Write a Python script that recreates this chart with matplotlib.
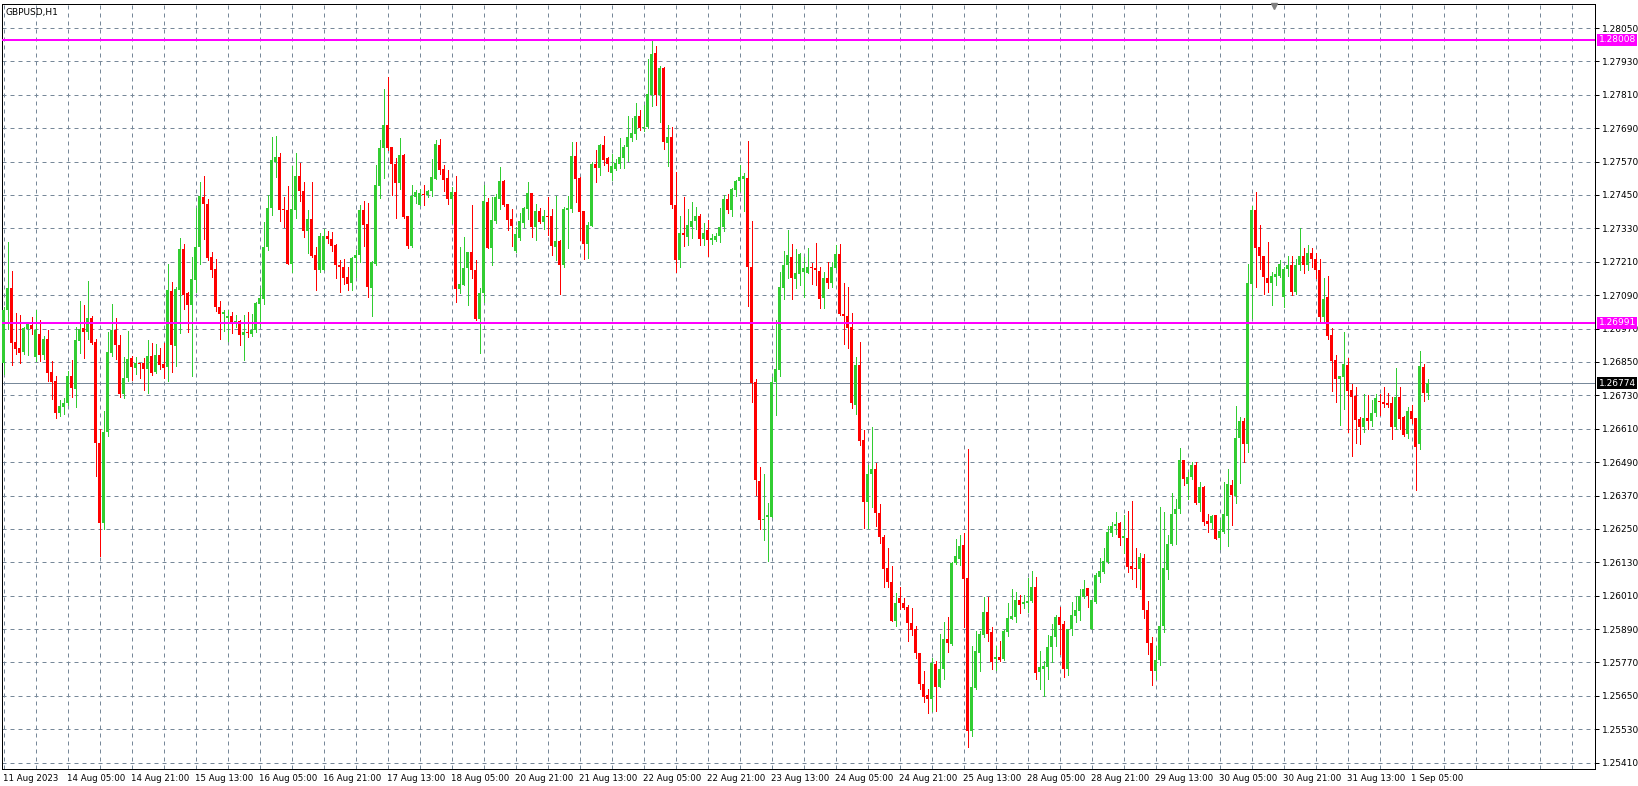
import numpy as np
import matplotlib
matplotlib.use("Agg")
import matplotlib.pyplot as plt
import matplotlib.transforms as mtrans

# ---------------- data (GBPUSD H1) ----------------
opens = [
1.26846, 1.27035, 1.27116, 1.26921, 1.26899, 1.26885, 1.26969, 1.26982, 1.26868, 1.26950,
1.26874, 1.26932, 1.26813, 1.26781, 1.26665, 1.26689, 1.26702, 1.26800, 1.26754, 1.26927,
1.26971, 1.26958, 1.27008, 1.26921, 1.26559, 1.26272, 1.26599, 1.26882, 1.26964, 1.26910,
1.26735, 1.26793, 1.26864, 1.26830, 1.26847, 1.26848, 1.26825, 1.26871, 1.26815, 1.26874,
1.26842, 1.26833, 1.27105, 1.26909, 1.27108, 1.27257, 1.27096, 1.27055, 1.27144, 1.27263,
1.27441, 1.27419, 1.27227, 1.27185, 1.27047, 1.27021, 1.27007, 1.27015, 1.26986, 1.26997,
1.26946, 1.26958, 1.26949, 1.26964, 1.27059, 1.27077, 1.27262, 1.27403, 1.27569, 1.27585,
1.27399, 1.27397, 1.27203, 1.27395, 1.27520, 1.27465, 1.27321, 1.27364, 1.27235, 1.27182,
1.27181, 1.27301, 1.27291, 1.27269, 1.27199, 1.27192, 1.27155, 1.27132, 1.27223, 1.27236,
1.27395, 1.27347, 1.27114, 1.27203, 1.27482, 1.27618, 1.27701, 1.27621, 1.27563, 1.27492,
1.27592, 1.27373, 1.27265, 1.27443, 1.27415, 1.27455, 1.27449, 1.27463, 1.27509, 1.27630,
1.27544, 1.27511, 1.27437, 1.27461, 1.27112, 1.27127, 1.27186, 1.27244, 1.27180, 1.27004,
1.27097, 1.27425, 1.27260, 1.27358, 1.27437, 1.27500, 1.27418, 1.27364, 1.27250, 1.27296,
1.27350, 1.27401, 1.27457, 1.27336, 1.27392, 1.27354, 1.27374, 1.27376, 1.27264, 1.27284,
1.27199, 1.27396, 1.27401, 1.27590, 1.27511, 1.27392, 1.27274, 1.27338, 1.27562, 1.27548,
1.27630, 1.27582, 1.27529, 1.27543, 1.27562, 1.27584, 1.27623, 1.27654, 1.27669, 1.27733,
1.27691, 1.27693, 1.27811, 1.27959, 1.27811, 1.27907, 1.27637, 1.27659, 1.27415, 1.27218,
1.27314, 1.27298, 1.27336, 1.27356, 1.27376, 1.27291, 1.27325, 1.27287, 1.27290, 1.27301,
1.27334, 1.27434, 1.27395, 1.27468, 1.27499, 1.27508, 1.27510, 1.27191, 1.26778, 1.26421,
1.26281, 1.26292, 1.26294, 1.26779, 1.26820, 1.27117, 1.27198, 1.27228, 1.27147, 1.27165,
1.27175, 1.27169, 1.27192, 1.27188, 1.27178, 1.27079, 1.27152, 1.27133, 1.27189, 1.27237,
1.27023, 1.27015, 1.26976, 1.26694, 1.26839, 1.26570, 1.26348, 1.26447, 1.26464, 1.26307,
1.26221, 1.26108, 1.26060, 1.25919, 1.26000, 1.25984, 1.25971, 1.25912, 1.25889, 1.25805,
1.25694, 1.25653, 1.25640, 1.25763, 1.25682, 1.25746, 1.25854, 1.25838, 1.26126, 1.26142,
1.26192, 1.26074, 1.25524, 1.25679, 1.25805, 1.25868, 1.25950, 1.25879, 1.25781, 1.25788,
1.25781, 1.25880, 1.25926, 1.25934, 1.25993, 1.25980, 1.25984, 1.25991, 1.26041, 1.25736,
1.25747, 1.25754, 1.25825, 1.25862, 1.25934, 1.25908, 1.25747, 1.25889, 1.25938, 1.25956,
1.26004, 1.26036, 1.25890, 1.25988, 1.26078, 1.26095, 1.26131, 1.26236, 1.26260, 1.26272,
1.26219, 1.26219, 1.26116, 1.26110, 1.26106, 1.26146, 1.25960, 1.25840, 1.25740, 1.25780,
1.25900, 1.26101, 1.26194, 1.26305, 1.26320, 1.26497, 1.26413, 1.26435, 1.26479, 1.26344,
1.26399, 1.26278, 1.26272, 1.26299, 1.26218, 1.26239, 1.26297, 1.26407, 1.26369, 1.26575,
1.26638, 1.26555, 1.27130, 1.27397, 1.27263, 1.27232, 1.27152, 1.27132, 1.27157, 1.27160,
1.27085, 1.27184, 1.27200, 1.27101, 1.27200, 1.27230, 1.27200, 1.27240, 1.27220, 1.27180,
1.27010, 1.27082, 1.26947, 1.26857, 1.26789, 1.26797, 1.26839, 1.26749, 1.26729, 1.26645,
1.26617, 1.26650, 1.26639, 1.26668, 1.26710, 1.26706, 1.26701, 1.26701, 1.26617, 1.26724,
1.26653, 1.26591, 1.26674, 1.26648, 1.26556, 1.26833, 1.26740]

highs = [
1.27047, 1.27282, 1.27177, 1.27025, 1.27019, 1.26977, 1.26988, 1.27010, 1.27035, 1.27001,
1.26942, 1.26965, 1.26852, 1.26798, 1.26715, 1.26720, 1.26819, 1.26857, 1.26974, 1.27069,
1.27053, 1.27141, 1.27015, 1.26933, 1.26608, 1.26672, 1.26959, 1.27058, 1.27008, 1.26947,
1.26868, 1.26960, 1.26870, 1.26868, 1.26847, 1.26864, 1.26929, 1.26918, 1.26914, 1.26900,
1.26918, 1.27203, 1.27137, 1.27120, 1.27297, 1.27275, 1.27102, 1.27227, 1.27404, 1.27498,
1.27520, 1.27434, 1.27246, 1.27221, 1.27069, 1.27036, 1.27036, 1.27029, 1.27019, 1.27001,
1.27019, 1.27030, 1.27022, 1.27066, 1.27114, 1.27354, 1.27449, 1.27657, 1.27661, 1.27600,
1.27441, 1.27482, 1.27553, 1.27602, 1.27564, 1.27498, 1.27395, 1.27495, 1.27264, 1.27315,
1.27327, 1.27321, 1.27318, 1.27273, 1.27218, 1.27221, 1.27193, 1.27227, 1.27253, 1.27413,
1.27430, 1.27423, 1.27214, 1.27557, 1.27647, 1.27830, 1.27875, 1.27621, 1.27584, 1.27654,
1.27598, 1.27375, 1.27486, 1.27468, 1.27470, 1.27486, 1.27468, 1.27581, 1.27648, 1.27650,
1.27558, 1.27540, 1.27478, 1.27518, 1.27264, 1.27300, 1.27244, 1.27414, 1.27216, 1.27115,
1.27487, 1.27439, 1.27442, 1.27454, 1.27550, 1.27504, 1.27418, 1.27400, 1.27336, 1.27385,
1.27406, 1.27497, 1.27457, 1.27418, 1.27404, 1.27396, 1.27442, 1.27400, 1.27446, 1.27288,
1.27406, 1.27446, 1.27642, 1.27640, 1.27516, 1.27394, 1.27354, 1.27568, 1.27612, 1.27634,
1.27662, 1.27586, 1.27596, 1.27578, 1.27654, 1.27629, 1.27734, 1.27726, 1.27779, 1.27754,
1.27773, 1.27937, 1.28002, 1.27986, 1.27913, 1.27911, 1.27700, 1.27696, 1.27532, 1.27376,
1.27441, 1.27401, 1.27426, 1.27408, 1.27380, 1.27348, 1.27360, 1.27310, 1.27312, 1.27404,
1.27449, 1.27452, 1.27474, 1.27504, 1.27557, 1.27529, 1.27645, 1.27358, 1.26788, 1.26473,
1.26449, 1.26342, 1.26797, 1.27002, 1.27175, 1.27249, 1.27323, 1.27273, 1.27255, 1.27243,
1.27228, 1.27258, 1.27205, 1.27278, 1.27192, 1.27173, 1.27210, 1.27208, 1.27269, 1.27275,
1.27134, 1.27121, 1.27026, 1.26869, 1.26923, 1.26605, 1.26478, 1.26617, 1.26487, 1.26338,
1.26229, 1.26183, 1.26115, 1.26021, 1.26041, 1.26002, 1.25976, 1.25967, 1.25900, 1.25805,
1.25739, 1.25675, 1.25785, 1.25775, 1.25872, 1.25916, 1.25934, 1.26130, 1.26214, 1.26228,
1.26234, 1.26538, 1.25829, 1.25884, 1.25884, 1.26006, 1.26006, 1.25896, 1.25829, 1.25847,
1.25886, 1.25985, 1.26034, 1.26023, 1.26012, 1.26014, 1.26074, 1.26098, 1.26077, 1.25811,
1.25775, 1.25868, 1.25908, 1.25940, 1.25969, 1.25919, 1.25890, 1.25988, 1.26009, 1.26033,
1.26066, 1.26039, 1.25994, 1.26093, 1.26146, 1.26182, 1.26261, 1.26275, 1.26311, 1.26275,
1.26299, 1.26314, 1.26350, 1.26182, 1.26164, 1.26159, 1.25990, 1.25860, 1.25830, 1.26330,
1.26310, 1.26227, 1.26380, 1.26359, 1.26542, 1.26497, 1.26455, 1.26489, 1.26489, 1.26419,
1.26404, 1.26305, 1.26299, 1.26299, 1.26281, 1.26418, 1.26465, 1.26425, 1.26692, 1.26651,
1.26647, 1.27203, 1.27412, 1.27461, 1.27343, 1.27232, 1.27282, 1.27174, 1.27191, 1.27217,
1.27193, 1.27230, 1.27230, 1.27220, 1.27330, 1.27260, 1.27270, 1.27260, 1.27240, 1.27220,
1.27150, 1.27160, 1.26971, 1.26875, 1.26800, 1.26959, 1.26863, 1.26771, 1.26759, 1.26653,
1.26735, 1.26731, 1.26713, 1.26735, 1.26735, 1.26760, 1.26737, 1.26725, 1.26828, 1.26760,
1.26656, 1.26689, 1.26694, 1.26648, 1.26891, 1.26843, 1.26789]

lows = [
1.26805, 1.26969, 1.26839, 1.26878, 1.26846, 1.26880, 1.26874, 1.26952, 1.26854, 1.26854,
1.26861, 1.26782, 1.26717, 1.26650, 1.26656, 1.26663, 1.26695, 1.26724, 1.26687, 1.26882,
1.26864, 1.26933, 1.26915, 1.26439, 1.26153, 1.26251, 1.26583, 1.26872, 1.26861, 1.26724,
1.26720, 1.26782, 1.26786, 1.26807, 1.26791, 1.26748, 1.26738, 1.26803, 1.26812, 1.26824,
1.26791, 1.26782, 1.26814, 1.26836, 1.26955, 1.27042, 1.26957, 1.26799, 1.27102, 1.27202,
1.27291, 1.27218, 1.27157, 1.27033, 1.26933, 1.26961, 1.26927, 1.26955, 1.26976, 1.26911,
1.26858, 1.26941, 1.26942, 1.26958, 1.26980, 1.27057, 1.27254, 1.27379, 1.27514, 1.27358,
1.27336, 1.27202, 1.27174, 1.27367, 1.27428, 1.27299, 1.27242, 1.27226, 1.27107, 1.27175,
1.27179, 1.27279, 1.27247, 1.27153, 1.27103, 1.27129, 1.27110, 1.27110, 1.27157, 1.27208,
1.27265, 1.27085, 1.27016, 1.27199, 1.27438, 1.27510, 1.27611, 1.27449, 1.27367, 1.27471,
1.27367, 1.27260, 1.27262, 1.27423, 1.27413, 1.27415, 1.27441, 1.27445, 1.27507, 1.27526,
1.27464, 1.27418, 1.27350, 1.27066, 1.27098, 1.27125, 1.27054, 1.27150, 1.26999, 1.26882,
1.27066, 1.27260, 1.27199, 1.27348, 1.27401, 1.27410, 1.27325, 1.27266, 1.27246, 1.27287,
1.27336, 1.27362, 1.27299, 1.27288, 1.27350, 1.27329, 1.27308, 1.27233, 1.27216, 1.27095,
1.27192, 1.27259, 1.27390, 1.27425, 1.27290, 1.27220, 1.27224, 1.27337, 1.27498, 1.27522,
1.27557, 1.27537, 1.27504, 1.27541, 1.27547, 1.27547, 1.27573, 1.27645, 1.27651, 1.27684,
1.27681, 1.27691, 1.27770, 1.27773, 1.27713, 1.27615, 1.27554, 1.27404, 1.27174, 1.27193,
1.27265, 1.27271, 1.27295, 1.27327, 1.27271, 1.27272, 1.27230, 1.27275, 1.27285, 1.27281,
1.27321, 1.27386, 1.27374, 1.27445, 1.27464, 1.27392, 1.27051, 1.26705, 1.26373, 1.26250,
1.26211, 1.26134, 1.26291, 1.26658, 1.26799, 1.27075, 1.27153, 1.27075, 1.27117, 1.27125,
1.27083, 1.27169, 1.27130, 1.27128, 1.27044, 1.27044, 1.27117, 1.27121, 1.27185, 1.27019,
1.26914, 1.26901, 1.26683, 1.26662, 1.26553, 1.26253, 1.26253, 1.26330, 1.26262, 1.26198,
1.26042, 1.26042, 1.25919, 1.25901, 1.25961, 1.25961, 1.25846, 1.25869, 1.25785, 1.25675,
1.25628, 1.25589, 1.25596, 1.25596, 1.25682, 1.25710, 1.25808, 1.25832, 1.26123, 1.26120,
1.25898, 1.25466, 1.25505, 1.25676, 1.25740, 1.25860, 1.25848, 1.25745, 1.25742, 1.25775,
1.25778, 1.25866, 1.25925, 1.25914, 1.25948, 1.25967, 1.25952, 1.25987, 1.25712, 1.25675,
1.25648, 1.25711, 1.25770, 1.25830, 1.25799, 1.25718, 1.25724, 1.25870, 1.25914, 1.25924,
1.26000, 1.25970, 1.25889, 1.25985, 1.26060, 1.26090, 1.26129, 1.26225, 1.26233, 1.26191,
1.26165, 1.26095, 1.26071, 1.26041, 1.26035, 1.25930, 1.25800, 1.25690, 1.25710, 1.25760,
1.25880, 1.26071, 1.26191, 1.26197, 1.26308, 1.26407, 1.26359, 1.26428, 1.26339, 1.26315,
1.26263, 1.26239, 1.26255, 1.26213, 1.26177, 1.26236, 1.26188, 1.26263, 1.26344, 1.26416,
1.26489, 1.26527, 1.27007, 1.27121, 1.27184, 1.27095, 1.27100, 1.27055, 1.27127, 1.27157,
1.27049, 1.27160, 1.27090, 1.27095, 1.27180, 1.27170, 1.27180, 1.27190, 1.27150, 1.26995,
1.26998, 1.26933, 1.26746, 1.26706, 1.26623, 1.26681, 1.26597, 1.26513, 1.26557, 1.26555,
1.26597, 1.26609, 1.26621, 1.26657, 1.26659, 1.26689, 1.26689, 1.26573, 1.26609, 1.26609,
1.26585, 1.26575, 1.26629, 1.26389, 1.26537, 1.26711, 1.26716]

closes = [
1.27035, 1.27116, 1.26919, 1.26897, 1.26882, 1.26971, 1.26986, 1.26969, 1.26964, 1.26874,
1.26932, 1.26809, 1.26778, 1.26665, 1.26691, 1.26703, 1.26798, 1.26756, 1.26929, 1.26970,
1.26958, 1.27008, 1.26919, 1.26559, 1.26272, 1.26599, 1.26885, 1.26964, 1.26910, 1.26735,
1.26794, 1.26860, 1.26833, 1.26846, 1.26844, 1.26825, 1.26871, 1.26809, 1.26874, 1.26839,
1.26830, 1.27108, 1.26911, 1.27112, 1.27257, 1.27092, 1.27055, 1.27148, 1.27264, 1.27445,
1.27417, 1.27223, 1.27181, 1.27046, 1.27021, 1.27031, 1.27015, 1.26990, 1.26996, 1.26947,
1.26958, 1.26953, 1.26966, 1.27063, 1.27080, 1.27264, 1.27404, 1.27574, 1.27585, 1.27397,
1.27395, 1.27203, 1.27401, 1.27520, 1.27464, 1.27319, 1.27364, 1.27232, 1.27182, 1.27303,
1.27301, 1.27291, 1.27265, 1.27197, 1.27190, 1.27153, 1.27129, 1.27224, 1.27236, 1.27395,
1.27341, 1.27118, 1.27209, 1.27486, 1.27618, 1.27701, 1.27620, 1.27562, 1.27492, 1.27592,
1.27370, 1.27265, 1.27446, 1.27462, 1.27456, 1.27449, 1.27465, 1.27513, 1.27632, 1.27540,
1.27504, 1.27437, 1.27460, 1.27112, 1.27130, 1.27187, 1.27244, 1.27180, 1.27004, 1.27097,
1.27428, 1.27260, 1.27360, 1.27442, 1.27500, 1.27413, 1.27360, 1.27340, 1.27310, 1.27356,
1.27404, 1.27457, 1.27336, 1.27392, 1.27354, 1.27374, 1.27372, 1.27268, 1.27284, 1.27199,
1.27401, 1.27403, 1.27590, 1.27509, 1.27389, 1.27274, 1.27342, 1.27562, 1.27548, 1.27630,
1.27576, 1.27563, 1.27553, 1.27565, 1.27587, 1.27624, 1.27657, 1.27673, 1.27733, 1.27691,
1.27696, 1.27813, 1.27957, 1.27811, 1.27906, 1.27641, 1.27659, 1.27413, 1.27218, 1.27314,
1.27306, 1.27343, 1.27358, 1.27376, 1.27291, 1.27314, 1.27287, 1.27295, 1.27304, 1.27336,
1.27434, 1.27397, 1.27470, 1.27502, 1.27514, 1.27517, 1.27190, 1.26775, 1.26425, 1.26281,
1.26284, 1.26300, 1.26778, 1.26823, 1.27120, 1.27199, 1.27233, 1.27151, 1.27170, 1.27239,
1.27188, 1.27191, 1.27187, 1.27180, 1.27076, 1.27152, 1.27133, 1.27192, 1.27239, 1.27021,
1.27014, 1.26971, 1.26702, 1.26839, 1.26566, 1.26348, 1.26448, 1.26467, 1.26307, 1.26220,
1.26106, 1.26060, 1.25919, 1.25983, 1.25984, 1.25967, 1.25912, 1.25887, 1.25805, 1.25694,
1.25647, 1.25637, 1.25769, 1.25682, 1.25748, 1.25853, 1.25841, 1.26126, 1.26153, 1.26189,
1.26071, 1.25524, 1.25680, 1.25811, 1.25871, 1.25950, 1.25873, 1.25770, 1.25788, 1.25778,
1.25883, 1.25928, 1.25937, 1.25993, 1.25976, 1.25987, 1.25990, 1.26041, 1.25733, 1.25753,
1.25757, 1.25825, 1.25865, 1.25934, 1.25904, 1.25748, 1.25890, 1.25940, 1.25958, 1.26009,
1.26034, 1.26010, 1.25994, 1.26084, 1.26099, 1.26135, 1.26239, 1.26260, 1.26269, 1.26218,
1.26220, 1.26113, 1.26105, 1.26107, 1.26149, 1.25960, 1.25840, 1.25740, 1.25780, 1.25900,
1.26110, 1.26195, 1.26305, 1.26321, 1.26497, 1.26428, 1.26437, 1.26479, 1.26344, 1.26399,
1.26275, 1.26269, 1.26296, 1.26215, 1.26242, 1.26302, 1.26411, 1.26371, 1.26575, 1.26638,
1.26555, 1.27133, 1.27397, 1.27258, 1.27229, 1.27155, 1.27132, 1.27160, 1.27166, 1.27203,
1.27184, 1.27200, 1.27101, 1.27200, 1.27230, 1.27200, 1.27240, 1.27220, 1.27180, 1.27010,
1.27077, 1.26945, 1.26855, 1.26789, 1.26800, 1.26843, 1.26747, 1.26723, 1.26641, 1.26617,
1.26647, 1.26639, 1.26665, 1.26719, 1.26706, 1.26699, 1.26694, 1.26617, 1.26724, 1.26645,
1.26587, 1.26674, 1.26646, 1.26545, 1.26836, 1.26740, 1.26774]

time_labels = ["11 Aug 2023", "14 Aug 05:00", "14 Aug 21:00", "15 Aug 13:00", "16 Aug 05:00",
               "16 Aug 21:00", "17 Aug 13:00", "18 Aug 05:00", "20 Aug 21:00", "21 Aug 13:00",
               "22 Aug 05:00", "22 Aug 21:00", "23 Aug 13:00", "24 Aug 05:00", "24 Aug 21:00",
               "25 Aug 13:00", "28 Aug 05:00", "28 Aug 21:00", "29 Aug 13:00", "30 Aug 05:00",
               "30 Aug 21:00", "31 Aug 13:00", "1 Sep 05:00"]
label_step = 16          # bars between time labels
price_levels = [1.28008, 1.26991]   # horizontal magenta lines
bid_price = 1.26774
price_grid_start, price_grid_step, price_grid_count = 1.25410, 0.0012, 23
title = "GBPUSD,H1"

# ---------------- figure ----------------
W, H = 1638, 786
BULL, BEAR = "#32CD32", "#FF0000"
GRID = "#778899"
MAG = "#FF00FF"
PX = 0.72  # one pixel in points at 100 dpi

fig = plt.figure(figsize=(W / 100, H / 100), dpi=100)
fig.patch.set_facecolor("white")
L_px, R_px, T_px, B_px = 2, 1595, 4, 769
ax = fig.add_axes([L_px / W, 1 - B_px / H, (R_px - L_px) / W, (B_px - T_px) / H])
ax.set_facecolor("white")

n = len(closes)
idx = np.arange(n)
o = np.array(opens); h = np.array(highs); l = np.array(lows); c = np.array(closes)

x0 = -0.375
ax.set_xlim(x0, x0 + (R_px - L_px) / 4.0)
ax.set_ylim(1.253871, 1.281364)

# grid
yt = [price_grid_start + price_grid_step * k for k in range(price_grid_count)]
for y in yt:
    ax.axhline(y, color=GRID, lw=PX, ls=(0, (4, 4)), zorder=1)
for xv in range(0, 400, 8):
    ax.axvline(xv, color=GRID, lw=PX, ls=(0, (4, 4)), zorder=1)

# candles
up = c >= o
col = np.where(up, BULL, BEAR)
ax.vlines(idx, l, h, colors=col, linewidth=PX, zorder=3, antialiased=False)
body_bottom = np.minimum(o, c)
body_h = np.maximum(np.abs(c - o), 0.00004)
ax.bar(idx, body_h, bottom=body_bottom, width=0.75, color=col, linewidth=0,
       zorder=4, antialiased=False)

# level lines
for lv in price_levels:
    ax.axhline(lv, color=MAG, lw=2 * PX, zorder=5)
ax.axhline(bid_price, color=GRID, lw=PX, zorder=2)

# y axis on right
ax.yaxis.tick_right()
ax.set_yticks(yt)
ax.set_yticklabels([f"{v:.5f}" for v in yt])
ax.tick_params(axis="y", which="major", right=True, left=False, labelright=True,
               labelleft=False, length=3, width=PX, pad=2, labelsize=6.5, colors="black")
ax.set_xticks([])
for s in ax.spines.values():
    s.set_color("black")
    s.set_linewidth(PX)

# price boxes on axis
trans_r = mtrans.blended_transform_factory(fig.transFigure, ax.transData)
for lv in price_levels:
    ax.text(1598.5 / W, lv, f"{lv:.5f}", transform=trans_r, fontsize=6.5, color="white",
            va="center", ha="left", zorder=10, clip_on=False,
            bbox=dict(boxstyle="square,pad=0.18", fc=MAG, ec="none"))
ax.text(1598.5 / W, bid_price, f"{bid_price:.5f}", transform=trans_r, fontsize=6.5,
        color="white", va="center", ha="left", zorder=10, clip_on=False,
        bbox=dict(boxstyle="square,pad=0.18", fc="black", ec="none"))

# time labels
trans_b = mtrans.blended_transform_factory(ax.transData, fig.transFigure)
for k, lab in enumerate(time_labels):
    ax.text(k * label_step - 0.2, 1 - 774 / H, lab, transform=trans_b, fontsize=6.2,
            ha="left", va="top", color="black", clip_on=False)

# title and chart-shift marker
fig.text(5 / W, 1 - 12 / H, title, fontsize=6.5, ha="left", va="center", color="black")
fig.lines.append(plt.Line2D([1274 / W], [1 - 6 / H], marker="v", markersize=5,
                            color="#808080", transform=fig.transFigure))

fig.savefig("out.png", dpi=100, facecolor="white")
